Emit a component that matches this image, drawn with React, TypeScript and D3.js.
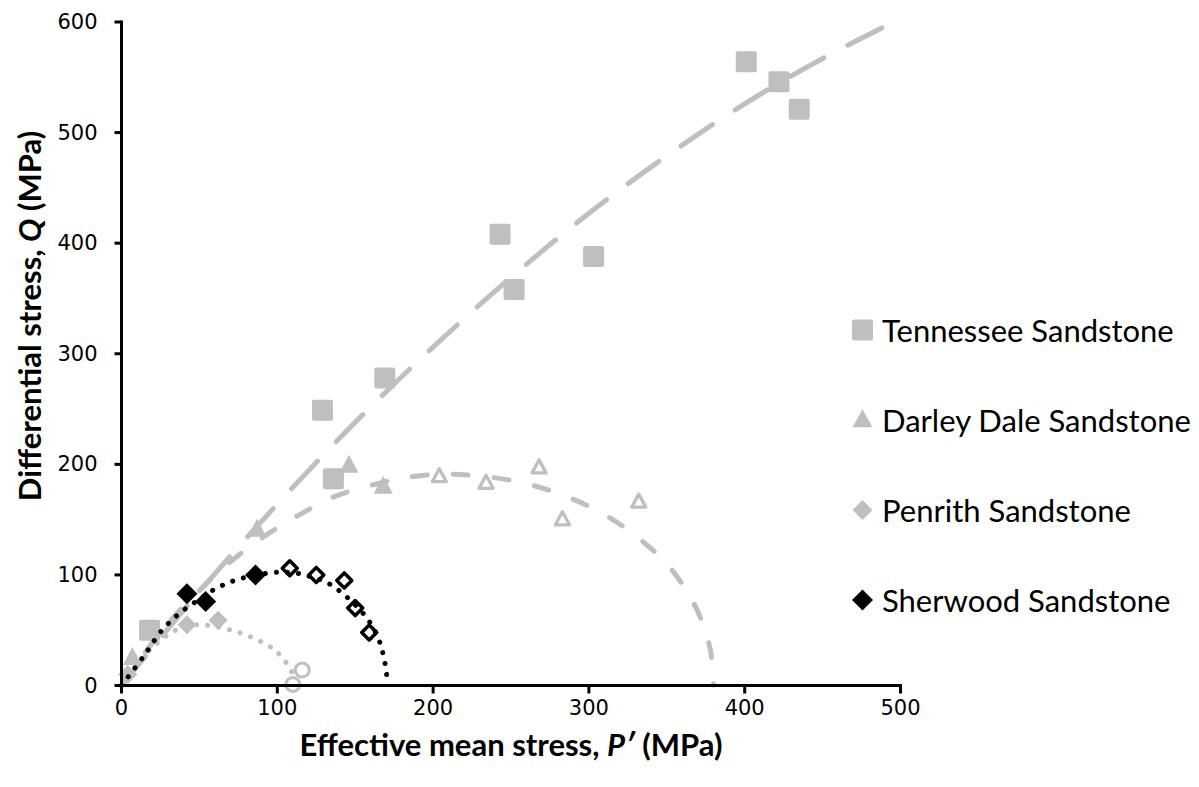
import React from "react";
import * as d3 from "d3";

// Measured specimens (effective mean stress P', differential stress Q), MPa
const tennesseeP = [18, 129, 136, 169, 243, 252, 303, 401, 422, 435];
const tennesseeQ = [50, 249, 187, 278, 408, 358, 388, 564, 546, 521];

const darleyFilledP = [7, 87, 146, 168];
const darleyFilledQ = [25, 141, 199, 180];
const darleyOpenP = [204, 234, 268, 283, 332];
const darleyOpenQ = [189, 183, 197, 150, 166];

const penrithFilledP = [4, 42, 62];
const penrithFilledQ = [10, 55, 59];
const penrithOpenP = [116, 110];
const penrithOpenQ = [14, 1];

const sherwoodFilledP = [42, 54, 86];
const sherwoodFilledQ = [83, 76, 100];
const sherwoodOpenP = [108, 125, 143, 150, 159];
const sherwoodOpenQ = [106, 100, 95, 70, 48];

// Yield envelopes
const tennesseeFitP = [0, 50, 100, 150, 200, 250, 300, 350, 400, 450, 500];
const tennesseeFitQ = [0, 85, 164, 238, 306, 369, 427, 479, 526, 567, 603];
const darleyFitP = [0, 25, 50, 70, 95, 115, 137, 163, 187, 212, 239, 264, 289, 312, 333, 350, 363, 372, 378, 380];
const darleyFitQ = [0, 48, 86, 112, 138, 155, 171, 182, 189, 191, 188, 181, 169, 153, 132, 110, 85, 60, 32, 0];
const penrithFitP = [0, 8, 18, 30, 42, 55, 69, 82, 95, 100, 105, 109, 112];
const penrithFitQ = [0, 15, 32, 46, 54, 54.5, 50.5, 44.5, 35.5, 30, 22, 13, 4];
const sherwoodFitP = [0, 14, 26, 37, 50, 61, 75, 96, 110, 120, 132, 143, 152, 159, 165, 168, 170, 170.5];
const sherwoodFitQ = [0, 26, 50, 65, 78, 88, 96, 102, 102, 99, 93, 82, 70, 58, 42, 28, 12, 2];

const xTicks = [0, 100, 200, 300, 400, 500];
const yTicks = [0, 100, 200, 300, 400, 500, 600];

const legendNames = ["Tennessee Sandstone", "Darley Dale Sandstone", "Penrith Sandstone", "Sherwood Sandstone"];

const W = 1199;
const H = 787;
const GREY = "#bfbfbf";

const x = d3.scaleLinear().domain([0, 500]).range([121.5, 900.5]);
const y = d3.scaleLinear().domain([0, 600]).range([685.5, 22]);

const zip = (a: number[], b: number[]) => a.map((v, i) => [v, b[i]] as [number, number]);

const fitLine = d3
  .line<[number, number]>()
  .x((d) => x(d[0]))
  .y((d) => y(d[1]))
  .curve(d3.curveCatmullRom.alpha(0.5));

// marker paths
const diamondPath = (r: number) => `M0,${-r}L${r},0L0,${r}L${-r},0Z`;
const trianglePath = (w: number, h: number) => `M0,${-h * 0.6}L${w / 2},${h * 0.4}L${-w / 2},${h * 0.4}Z`;

const Square = ({ cx, cy }: { cx: number; cy: number }) => (
  <rect x={cx - 10.5} y={cy - 10.5} width={21} height={21} rx={2} fill={GREY} />
);

export default function App() {
  const tick = "DejaVu Sans, Verdana, sans-serif";
  const titleFont = "Lato, 'Open Sans', sans-serif";
  return (
    <svg width={W} height={H} style={{ position: "absolute", left: 0, top: 0, background: "#fff" }}>
      <defs>
        <clipPath id="plot">
          <rect x={x(0)} y={y(600) - 2} width={x(500) - x(0) + 4} height={y(0) - y(600) + 4} />
        </clipPath>
      </defs>

      {/* grey markers */}
      {zip(tennesseeP, tennesseeQ).map(([p, q], i) => (
        <Square key={"t" + i} cx={x(p)} cy={y(q)} />
      ))}
      {zip(darleyFilledP, darleyFilledQ).map(([p, q], i) => (
        <path key={"df" + i} d={trianglePath(19, 18)} transform={`translate(${x(p)},${y(q)})`} fill={GREY} />
      ))}
      {zip(darleyOpenP, darleyOpenQ).map(([p, q], i) => (
        <path
          key={"do" + i}
          d={trianglePath(14, 13)}
          transform={`translate(${x(p)},${y(q)})`}
          fill="#fff"
          stroke={GREY}
          strokeWidth={3.3}
          strokeLinejoin="round"
        />
      ))}
      {zip(penrithFilledP, penrithFilledQ).map(([p, q], i) => (
        <path key={"pf" + i} d={diamondPath(9.5)} transform={`translate(${x(p)},${y(q)})`} fill={GREY} />
      ))}
      {zip(penrithOpenP, penrithOpenQ).map(([p, q], i) => (
        <circle key={"po" + i} cx={x(p)} cy={y(q)} r={7} fill="none" stroke={GREY} strokeWidth={3} />
      ))}

      {/* grey envelopes */}
      <g clipPath="url(#plot)" fill="none" stroke={GREY} strokeLinecap="round">
        <path d={fitLine(zip(tennesseeFitP, tennesseeFitQ)) as string} strokeWidth={5} strokeDasharray="38 27" />
        <path d={fitLine(zip(darleyFitP, darleyFitQ)) as string} strokeWidth={5} strokeDasharray="15 26" />
        <path d={fitLine(zip(penrithFitP, penrithFitQ)) as string} strokeWidth={5} strokeDasharray="0.1 11" />
      </g>

      {/* Sherwood */}
      {zip(sherwoodFilledP, sherwoodFilledQ).map(([p, q], i) => (
        <path key={"sf" + i} d={diamondPath(10.5)} transform={`translate(${x(p)},${y(q)})`} fill="#000" />
      ))}
      {zip(sherwoodOpenP, sherwoodOpenQ).map(([p, q], i) => (
        <path
          key={"so" + i}
          d={diamondPath(7.5)}
          transform={`translate(${x(p)},${y(q)})`}
          fill="#fff"
          stroke="#000"
          strokeWidth={3.5}
          strokeLinejoin="round"
        />
      ))}
      <path
        d={fitLine(zip(sherwoodFitP, sherwoodFitQ)) as string}
        fill="none"
        stroke="#000"
        strokeWidth={5}
        strokeLinecap="round"
        strokeDasharray="0.1 11"
      />

      {/* axes */}
      <g stroke="#000" strokeWidth={3}>
        <line x1={x(0)} x2={x(0)} y1={y(600) - 1.5} y2={y(0) + 1.5} />
        <line x1={x(0) - 1.5} x2={x(500) + 1.5} y1={y(0)} y2={y(0)} />
        {yTicks.map((t) => (
          <line key={"yt" + t} x1={x(0) - 7} x2={x(0)} y1={y(t)} y2={y(t)} />
        ))}
        {xTicks.map((t) => (
          <line key={"xt" + t} x1={x(t)} x2={x(t)} y1={y(0)} y2={y(0) + 8} />
        ))}
      </g>
      <g fontFamily={tick} fontSize={21} fill="#000">
        {yTicks.map((t) => (
          <text key={"yl" + t} x={x(0) - 24} y={y(t)} textAnchor="end" dominantBaseline="central">
            {t}
          </text>
        ))}
        {xTicks.map((t) => (
          <text key={"xl" + t} x={x(t)} y={y(0) + 22} textAnchor="middle" dominantBaseline="central">
            {t}
          </text>
        ))}
      </g>

      {/* axis titles */}
      <text
        x={(x(0) + x(500)) / 2}
        y={756}
        textAnchor="middle"
        fontFamily={titleFont}
        fontWeight="bold"
        fontSize={31}
        fill="#000"
      >
        Effective mean stress, <tspan fontStyle="italic">P′</tspan> (MPa)
      </text>
      <text
        transform="translate(41,316) rotate(-90)"
        textAnchor="middle"
        fontFamily={titleFont}
        fontWeight="bold"
        fontSize={31}
        fill="#000"
      >
        Differential stress, <tspan fontStyle="italic">Q</tspan> (MPa)
      </text>

      {/* legend */}
      <g fontFamily={titleFont} fontSize={31} fill="#000">
        {legendNames.map((name, i) => {
          const cy = [330, 420, 510, 600][i];
          const mx = 862.5;
          let marker;
          if (i === 0) marker = <Square cx={mx} cy={cy} />;
          else if (i === 1)
            marker = <path d={trianglePath(20, 18)} transform={`translate(${mx},${cy})`} fill={GREY} />;
          else if (i === 2)
            marker = <path d={diamondPath(10)} transform={`translate(${mx},${cy})`} fill={GREY} />;
          else marker = <path d={diamondPath(10.5)} transform={`translate(${mx},${cy})`} fill="#000" />;
          return (
            <g key={name}>
              {marker}
              <text x={882} y={cy} dominantBaseline="central">
                {name}
              </text>
            </g>
          );
        })}
      </g>
    </svg>
  );
}
